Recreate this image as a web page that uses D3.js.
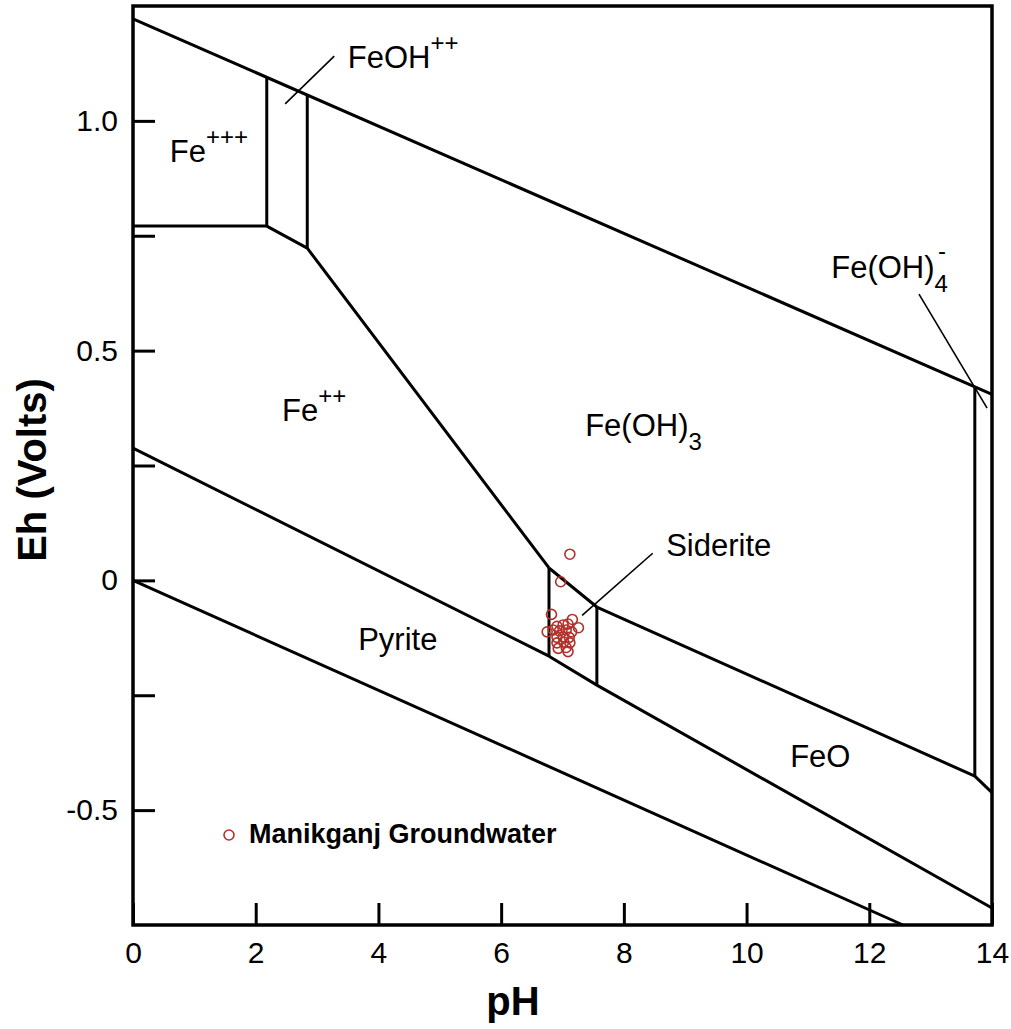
<!DOCTYPE html>
<html>
<head>
<meta charset="utf-8">
<script src="https://cdn.jsdelivr.net/npm/d3@7"></script>
<style>
  body { margin: 0; background: #fff; }
  svg text { font-family: "Liberation Sans", Arial, Helvetica, sans-serif; fill: #000; }
</style>
</head>
<body>
<svg id="chart" width="1011" height="1029"></svg>
<script>
// ---- Axis ticks ----
const phTicks = [0, 2, 4, 6, 8, 10, 12, 14];
const ehTicks = [-0.5, -0.25, 0, 0.25, 0.5, 0.75, 1.0];
const ehTickLabels = ["-0.5", "", "0", "", "0.5", "", "1.0"];

// ---- Stability-field boundaries, as [pH, Eh (V)] vertices ----
const waterUpper    = [[0, 1.222], [14, 0.405]];
const waterLower    = [[0, 0], [12.55, -0.75]];
const ferricFerrous = [[0, 0.771], [2.18, 0.771], [2.84, 0.723], [6.78, 0.027]];
const fe3FeOH       = [[2.18, 0.771], [2.18, 1.095]];
const feohFeOH3     = [[2.84, 0.723], [2.84, 1.056]];
const sideriteTop   = [[6.78, 0.027], [7.56, -0.058]];
const sideriteLeft  = [[6.78, 0.027], [6.78, -0.165]];
const sideriteRight = [[7.56, -0.058], [7.56, -0.228]];
const feoh3FeO      = [[7.56, -0.058], [13.72, -0.426], [14, -0.462]];
const feoh3FeOH4    = [[13.72, 0.421], [13.72, -0.426]];
const pyriteTop     = [[0, 0.288], [6.78, -0.165], [7.56, -0.228], [14, -0.713]];

// ---- Manikganj groundwater samples ----
const samplePH = [7.12, 6.97, 6.82, 7.16, 7.26, 6.75, 6.91, 7.01, 7.09, 6.85, 6.95,
                  7.06, 7.15, 6.91, 7.01, 7.11, 6.91, 7.02, 7.12, 6.93, 7.06, 7.09];
const sampleEh = [0.057, -0.003, -0.074, -0.085, -0.103, -0.112, -0.100, -0.097, -0.095, -0.108, -0.110,
                  -0.108, -0.112, -0.124, -0.123, -0.124, -0.136, -0.134, -0.136, -0.148, -0.146, -0.155];

// ---- Field names (anchor in pH / Eh, text parts: [text, kind]) ----
const fieldNames = [
  { pH: 0.60,  Eh: 0.911,  parts: [["Fe", ""], ["+++", "sup"]] },
  { pH: 3.50,  Eh: 1.115,  parts: [["FeOH", ""], ["++", "sup"]] },
  { pH: 2.43,  Eh: 0.346,  parts: [["Fe", ""], ["++", "sup"]] },
  { pH: 7.37,  Eh: 0.314,  parts: [["Fe(OH)", ""], ["3", "sub"]] },
  { pH: 11.38, Eh: 0.658,  parts: [["Fe(OH)", ""], ["4", "sub"], ["-", "supOver"]] },
  { pH: 8.69,  Eh: 0.053,  parts: [["Siderite", ""]] },
  { pH: 3.67,  Eh: -0.151, parts: [["Pyrite", ""]] },
  { pH: 10.71, Eh: -0.406, parts: [["FeO", ""]] }
];
// Leader lines from names to narrow fields, [pH, Eh] end points
const leaders = [
  [[2.48, 1.037], [3.28, 1.141]],
  [[12.81, 0.623], [13.92, 0.375]],
  [[7.32, -0.076], [8.47, 0.059]]
];

// ---- Layout ----
const svg = d3.select("#chart");
const plotLeft = 133, plotRight = 992, plotTop = 6, plotBottom = 925;

const x = d3.scaleLinear().domain([0, 14]).range([plotLeft, plotRight]);
const y = d3.scaleLinear().domain([-0.75, 1.25]).range([plotBottom, plotTop]);

const line = d3.line().x(d => x(d[0])).y(d => y(d[1]));

// Axes with inward ticks
const xAxis = d3.axisBottom(x).tickValues(phTicks).tickSize(-22).tickPadding(17)
  .tickFormat(d3.format("d"));
const gx = svg.append("g").attr("transform", `translate(0,${plotBottom})`).call(xAxis);
gx.select(".domain").remove();
gx.selectAll(".tick line").attr("stroke", "#000").attr("stroke-width", 3);
gx.selectAll(".tick text").attr("font-size", 30).attr("font-family", "Liberation Sans, Arial, sans-serif");

const yAxis = d3.axisLeft(y).tickValues(ehTicks).tickSize(-22).tickPadding(15)
  .tickFormat((d, i) => ehTickLabels[i]);
const gy = svg.append("g").attr("transform", `translate(${plotLeft},0)`).call(yAxis);
gy.select(".domain").remove();
gy.selectAll(".tick line").attr("stroke", "#000").attr("stroke-width", 3);
gy.selectAll(".tick text").attr("font-size", 30).attr("font-family", "Liberation Sans, Arial, sans-serif");

// Boundaries
const boundaries = [waterUpper, waterLower, ferricFerrous, fe3FeOH, feohFeOH3,
  sideriteTop, sideriteLeft, sideriteRight, feoh3FeO, feoh3FeOH4, pyriteTop];
svg.append("g").selectAll("path").data(boundaries).join("path")
  .attr("d", line)
  .attr("fill", "none")
  .attr("stroke", "#000")
  .attr("stroke-width", 3)
  .attr("stroke-linejoin", "round");

// Frame
svg.append("rect")
  .attr("x", plotLeft).attr("y", plotTop)
  .attr("width", plotRight - plotLeft).attr("height", plotBottom - plotTop)
  .attr("fill", "none").attr("stroke", "#000").attr("stroke-width", 3.5);

// Leader lines
svg.append("g").selectAll("path").data(leaders).join("path")
  .attr("d", line)
  .attr("stroke", "#000")
  .attr("stroke-width", 1.6);

// Field names
const names = svg.append("g").attr("font-size", 31);
fieldNames.forEach(f => {
  const t = names.append("text").attr("x", x(f.pH)).attr("y", y(f.Eh));
  let shift = 0;
  f.parts.forEach(([txt, kind]) => {
    const s = t.append("tspan").text(txt);
    if (kind === "sup") {
      s.attr("font-size", 24).attr("dy", -17 - shift); shift = -17;
    } else if (kind === "sub") {
      s.attr("font-size", 24).attr("dy", 14 - shift); shift = 14;
    } else if (kind === "supOver") {
      s.attr("font-size", 24).attr("dx", -10).attr("dy", -19 - shift); shift = -19;
    } else {
      s.attr("dy", -shift); shift = 0;
    }
  });
});

// Samples
const samples = samplePH.map((p, i) => [p, sampleEh[i]]);
svg.append("g").selectAll("circle").data(samples).join("circle")
  .attr("cx", d => x(d[0])).attr("cy", d => y(d[1]))
  .attr("r", 5)
  .attr("fill", "none")
  .attr("stroke", "#b3302a")
  .attr("stroke-width", 1.6);

// Legend
const legend = svg.append("g").attr("transform", "translate(229,835)");
legend.append("circle").attr("r", 5).attr("fill", "none")
  .attr("stroke", "#b3302a").attr("stroke-width", 1.6);
legend.append("text").attr("x", 20).attr("y", 8)
  .attr("font-size", 27).attr("font-weight", "bold")
  .text("Manikganj Groundwater");

// Axis titles
svg.append("text").attr("x", 513).attr("y", 1015)
  .attr("text-anchor", "middle").attr("font-size", 40).attr("font-weight", "bold")
  .text("pH");
svg.append("text").attr("transform", "translate(46,470) rotate(-90)")
  .attr("text-anchor", "middle").attr("font-size", 40).attr("font-weight", "bold")
  .text("Eh (Volts)");
</script>
</body>
</html>
